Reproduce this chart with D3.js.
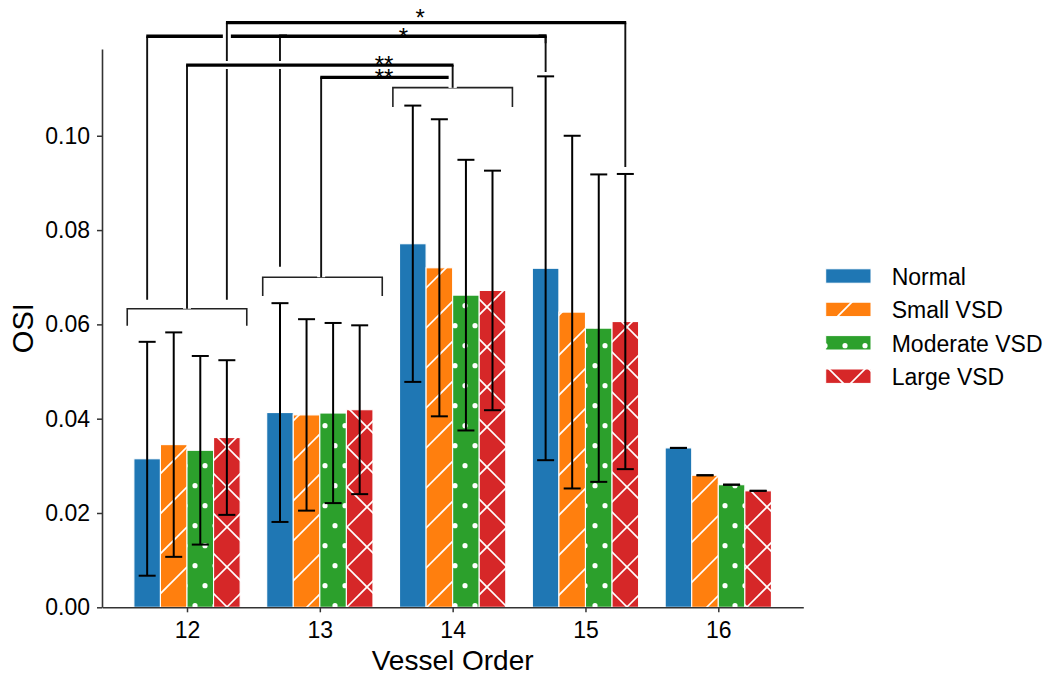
<!DOCTYPE html>
<html><head><meta charset="utf-8">
<script src="https://cdn.jsdelivr.net/npm/d3@7"></script>
<style>
body{margin:0;background:#fff}
svg{display:block}
text{font-family:"Liberation Sans",Arial,Helvetica,sans-serif;fill:#000}
</style>
</head><body>
<svg id="chart" width="1050" height="680"></svg>
<script>
// ---------------- data ----------------
const categories = ['12', '13', '14', '15', '16'];
const seriesNames = ['Normal', 'Small VSD', 'Moderate VSD', 'Large VSD'];
const normalMean   = [0.0315, 0.0413, 0.0771, 0.0719, 0.0338];
const smallMean    = [0.0345, 0.0408, 0.0720, 0.0626, 0.0280];
const moderateMean = [0.0333, 0.0412, 0.0662, 0.0592, 0.0260];
const largeMean    = [0.0360, 0.0419, 0.0672, 0.0606, 0.0247];
const normalSD   = [0.0248, 0.0232, 0.0293, 0.0407, 0];
const smallSD    = [0.0238, 0.0203, 0.0315, 0.0374, 0];
const moderateSD = [0.0200, 0.0191, 0.0287, 0.0326, 0];
const largeSD    = [0.0164, 0.0179, 0.0254, 0.0313, 0];
const yTicks = [0.00, 0.02, 0.04, 0.06, 0.08, 0.10];
const yMax = 0.1184;
const xLabel = 'Vessel Order';
const yLabel = 'OSI';

// group brackets (category index, left/right offsets in category units, values in OSI units)
const groupBrackets = [
  {cat: 0, left: -0.45, right: 0.45, stem: 0.00, top: 0.0633, bottom: 0.0597},
  {cat: 1, left: -0.43, right: 0.47, stem: 0.01, top: 0.0700, bottom: 0.0660},
  {cat: 2, left: -0.45, right: 0.45, stem: 0.00, top: 0.1102, bottom: 0.1061}
];
// significance brackets: endpoints (category + offset), leg bottoms & line level in OSI units
const sigBrackets = [
  {catA: 0, offA: -0.30, botA: 0.0652, catB: 3, offB: -0.30, botB: 0.1135, level: 0.1211, label: '',   labelPos: 1.629, labelY: 0.1222},
  {catA: 1, offA: -0.30, botA: 0.0722, catB: 3, offB: -0.30, botB: 0.1135, level: 0.1211, label: '*',  labelPos: 1.629, labelY: 0.1222},
  {catA: 0, offA:  0.30, botA: 0.0652, catB: 3, offB:  0.30, botB: 0.0934, level: 0.1240, label: '*',  labelPos: 1.755, labelY: 0.1261},
  {catA: 1, offA:  0.01, botA: 0.0700, catB: 2, offB:  0.00, botB: 0.1102, level: 0.1124, label: '**', labelPos: 1.483, labelY: 0.1134},
  {catA: 0, offA:  0.00, botA: 0.0633, catB: 2, offB:  0.00, botB: 0.1102, level: 0.1150, label: '**', labelPos: 1.483, labelY: 0.1162}
];

const means = [normalMean, smallMean, moderateMean, largeMean];
const sds = [normalSD, smallSD, moderateSD, largeSD];
const colors = ['#1f77b4', '#ff7f0e', '#2ca02c', '#d62728'];
const hatchKinds = ['none', 'diag', 'dots', 'cross'];

// ---------------- layout ----------------
const svg = d3.select('#chart');
const L = 102, R = 803.3, T = 49, B = 607.3;
const barW = 0.2;
const x = d3.scaleLinear().domain([-0.64, categories.length - 1 + 0.64]).range([L, R]);
const y = d3.scaleLinear().domain([0, yMax]).range([B, T]);

// ---------------- hatch patterns ----------------
const defs = svg.append('defs');
const NE = 34, SE = 20, HW = 1.6;
function makePattern(id, color, kind) {
  const p = defs.append('pattern').attr('id', id).attr('patternUnits', 'userSpaceOnUse')
    .attr('x', 0).attr('y', 0);
  if (kind === 'dots') {
    p.attr('width', 20).attr('height', 40);
    p.append('rect').attr('width', 20).attr('height', 40).attr('fill', color);
    const base = [[15, 5.7], [5, 25.7]];
    base.forEach(([cx, cy]) => {
      [-20, 0, 20].forEach(dx => [-40, 0, 40].forEach(dy => {
        p.append('circle').attr('cx', cx + dx).attr('cy', cy + dy).attr('r', 2.6).attr('fill', '#fff');
      }));
    });
  } else {
    p.attr('width', 40).attr('height', 40);
    p.append('rect').attr('width', 40).attr('height', 40).attr('fill', color);
    [NE - 40, NE, NE + 40, NE + 80].forEach(d => {
      p.append('line').attr('x1', d + 10).attr('y1', -10).attr('x2', d - 50).attr('y2', 50)
        .attr('stroke', '#fff').attr('stroke-width', HW);
    });
    if (kind === 'cross') {
      [SE - 80, SE - 40, SE, SE + 40].forEach(e => {
        p.append('line').attr('x1', -10).attr('y1', e - 10).attr('x2', 50).attr('y2', e + 50)
          .attr('stroke', '#fff').attr('stroke-width', HW);
      });
    }
  }
}
const fills = hatchKinds.map((k, i) => {
  if (k === 'none') return colors[i];
  makePattern('hatch' + i, colors[i], k);
  return 'url(#hatch' + i + ')';
});

// ---------------- bars ----------------
const barData = [];
means.forEach((arr, s) => arr.forEach((v, c) => barData.push({s, c, v, sd: sds[s][c]})));
const off = s => (s - (seriesNames.length - 1) / 2) * barW;

svg.append('g').selectAll('rect').data(barData).join('rect')
  .attr('x', d => x(d.c + off(d.s) - barW / 2))
  .attr('width', d => x(barW) - x(0))
  .attr('y', d => y(d.v))
  .attr('height', d => y(0) - y(d.v))
  .attr('fill', d => fills[d.s])
  .attr('stroke', '#fff').attr('stroke-width', 1.1);

// ---------------- error bars ----------------
const eg = svg.append('g').attr('stroke', '#000').attr('stroke-width', 2).attr('fill', 'none');
barData.forEach(d => {
  const cx = x(d.c + off(d.s));
  eg.append('line').attr('x1', cx).attr('x2', cx).attr('y1', y(d.v - d.sd)).attr('y2', y(d.v + d.sd));
  [d.v - d.sd, d.v + d.sd].forEach(v => {
    eg.append('line').attr('x1', cx - 8.5).attr('x2', cx + 8.5).attr('y1', y(v)).attr('y2', y(v));
  });
});

// ---------------- group brackets ----------------
const gb = svg.append('g').attr('stroke', '#222').attr('stroke-width', 1.6).attr('fill', 'none');
groupBrackets.forEach(b => {
  gb.append('path').attr('d',
    `M${x(b.cat + b.left)},${y(b.bottom)}V${y(b.top)}H${x(b.cat + b.right)}V${y(b.bottom)}`);
});

// ---------------- significance brackets ----------------
const sg = svg.append('g').attr('fill', 'none');
sigBrackets.forEach(b => {
  const xa = x(b.catA + b.offA), xb = x(b.catB + b.offB);
  const ya = y(b.botA), yb = y(b.botB), yl = y(b.level);
  const m = 7;
  // white halo (trimmed near corners)
  const halo = `M${xa},${ya}V${yl + m}M${xa + m},${yl}H${xb - m}M${xb},${yl + m}V${yb}`;
  sg.append('path').attr('d', halo).attr('stroke', '#fff').attr('stroke-width', 8);
  sg.append('path').attr('d', `M${xa},${ya}V${yl}M${xb},${yl}V${yb}`)
    .attr('stroke', '#111').attr('stroke-width', 1.9);
  sg.append('path').attr('d', `M${xa - 0.9},${yl}H${xb + 0.9}`)
    .attr('stroke', '#000').attr('stroke-width', 3.3);
});
const starFs = 24;
svg.append('g').selectAll('text').data(sigBrackets.filter(b => b.label)).join('text')
  .attr('x', d => x(d.labelPos)).attr('y', d => y(d.labelY) + 0.56 * starFs)
  .attr('text-anchor', 'middle').attr('font-size', starFs).text(d => d.label);

// ---------------- axes ----------------
const fs = 23;
const yAxis = svg.append('g').attr('transform', `translate(${L},0)`)
  .call(d3.axisLeft(y).tickValues(yTicks).tickFormat(d3.format('.2f')).tickSize(5).tickSizeOuter(0).tickPadding(7));
const xAxis = svg.append('g').attr('transform', `translate(0,${B})`)
  .call(d3.axisBottom(x).tickValues(d3.range(categories.length)).tickFormat(i => categories[i])
    .tickSize(5).tickSizeOuter(0).tickPadding(9));
[yAxis, xAxis].forEach(a => {
  a.selectAll('text').attr('font-size', fs).attr('font-family', '"Liberation Sans",Arial,sans-serif').attr('fill', '#000');
  a.selectAll('line').attr('stroke', '#333').attr('stroke-width', 1.5);
  a.select('.domain').attr('stroke', '#333').attr('stroke-width', 1.6);
});

svg.append('text').attr('transform', `translate(33,${(T + B) / 2}) rotate(-90)`)
  .attr('text-anchor', 'middle').attr('font-size', 29).text(yLabel);
svg.append('text').attr('x', (L + R) / 2).attr('y', 670)
  .attr('text-anchor', 'middle').attr('font-size', 28).text(xLabel);

// ---------------- legend ----------------
const lg = svg.append('g');
seriesNames.forEach((name, i) => {
  const cy = 276 + i * 33.4;
  lg.append('rect').attr('x', 825.7).attr('y', cy - 7.2).attr('width', 45.3).attr('height', 14.4)
    .attr('fill', fills[i]).attr('stroke', '#fff').attr('stroke-width', 1);
  lg.append('text').attr('x', 891.7).attr('y', cy + 9).attr('font-size', fs).text(name);
});
</script>
</body></html>
